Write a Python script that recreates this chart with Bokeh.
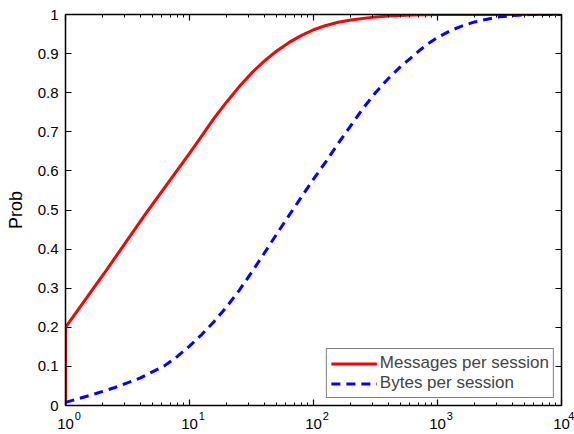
from bokeh.plotting import figure
from bokeh.models import (LogAxis, LinearAxis, FixedTicker, CustomJSTickFormatter,
                          Legend, LegendItem, Range1d)
from bokeh.embed import file_html
from bokeh.resources import INLINE

# Messages per session (CDF)
msg_x = [1, 1, 2.04, 4.42, 10, 12.6, 15.8, 20, 25.1, 31.6, 39.8, 50.1, 63.1, 79.4, 100,
         126, 158, 200, 282, 398, 631, 1000, 10000]
msg_y = [0, 0.2, 0.337, 0.49, 0.645, 0.69, 0.735, 0.777, 0.815, 0.85, 0.88, 0.906, 0.928,
         0.946, 0.961, 0.972, 0.98, 0.986, 0.992, 0.996, 0.999, 1.0, 1.0]

# Bytes per session (CDF)
bytes_x = [1, 1.58, 2.51, 3.98, 6.31, 7.94, 10, 12.6, 15.8, 20, 25.1, 31.6, 39.8, 50.1, 63.1,
           79.4, 100, 126, 158, 200, 251, 316, 398, 501, 631, 794, 1000, 1259, 1585, 1995,
           2512, 3162, 3981, 5623, 10000]
bytes_y = [0.008, 0.026, 0.046, 0.07, 0.102, 0.125, 0.152, 0.182, 0.215, 0.253, 0.294, 0.34,
           0.388, 0.437, 0.485, 0.532, 0.579, 0.624, 0.67, 0.716, 0.76, 0.8, 0.835, 0.866,
           0.893, 0.92, 0.941, 0.958, 0.971, 0.981, 0.988, 0.994, 0.997, 1.0, 1.0]

x_major = [1, 10, 100, 1000, 10000]
y_major = [round(i * 0.1, 1) for i in range(11)]
series_labels = ["Messages per session", "Bytes per session"]
y_label = "Prob"

FONT = "Liberation Sans"

p = figure(width=574, height=434, x_axis_type="log", output_backend="svg",
           toolbar_location=None, x_range=Range1d(1, 10000), y_range=Range1d(0, 1),
           min_border_left=65, min_border_right=13, min_border_top=14, min_border_bottom=29)
p.grid.visible = False
p.outline_line_color = "black"
p.outline_line_width = 1
p.background_fill_color = "white"
p.border_fill_color = "white"

minor_x = [m * d for d in [1, 10, 100, 1000] for m in range(2, 10)]
blank = CustomJSTickFormatter(code="return '';")
y_fmt = CustomJSTickFormatter(code="return String(Math.round(tick*10)/10);")
# exponent shifted to the right of the "10" using no-break spaces
exp_fmt = CustomJSTickFormatter(code="""
const e = Math.round(Math.log10(tick));
return '\\u00a0'.repeat(8) + String(e);
""")
base_fmt = CustomJSTickFormatter(code="return '10';")

def style_axis(ax, minor=True):
    ax.major_tick_in = 6
    ax.major_tick_out = 0
    ax.minor_tick_in = 3 if minor else 0
    ax.minor_tick_out = 0
    ax.axis_line_color = "black"
    ax.axis_line_width = 1.5
    ax.major_tick_line_color = "black"
    ax.major_tick_line_width = 1.2
    ax.minor_tick_line_color = "black"
    ax.minor_tick_line_width = 1
    ax.major_label_text_font = FONT
    ax.major_label_text_font_size = "15px"
    ax.major_label_text_color = "black"

# inner bottom axis: ticks + exponents
xa = p.xaxis[0]
xa.ticker = FixedTicker(ticks=x_major, minor_ticks=minor_x)
xa.formatter = exp_fmt
style_axis(xa)
xa.major_label_text_font_size = "11px"
xa.major_label_standoff = 4

# outer bottom axis: the "10" bases
xb = LogAxis(ticker=FixedTicker(ticks=x_major), formatter=base_fmt)
style_axis(xb)
xb.axis_line_color = None
xb.major_tick_line_color = None
xb.minor_tick_line_color = None
xb.major_tick_in = 0
xb.minor_tick_in = 0
xb.major_label_standoff = -6
p.add_layout(xb, "below")

ya = p.yaxis[0]
ya.ticker = FixedTicker(ticks=y_major)
ya.formatter = y_fmt
style_axis(ya, minor=False)
ya.major_label_standoff = 7
ya.axis_label = y_label
ya.axis_label_text_font = FONT
ya.axis_label_text_font_size = "18px"
ya.axis_label_text_font_style = "normal"
ya.axis_label_text_color = "black"
ya.axis_label_standoff = 9

top = LogAxis(ticker=FixedTicker(ticks=x_major, minor_ticks=minor_x), formatter=blank)
style_axis(top)
top.major_label_text_font_size = "0px"
top.major_label_standoff = 0
p.add_layout(top, "above")

right = LinearAxis(ticker=FixedTicker(ticks=y_major), formatter=blank)
style_axis(right, minor=False)
right.major_label_text_font_size = "0px"
right.major_label_standoff = 0
p.add_layout(right, "right")

r1 = p.line(msg_x, msg_y, line_color="#ff0000", line_width=3)
r2 = p.line(bytes_x, bytes_y, line_color="#0000ff", line_width=3, line_dash="9 6")

legend = Legend(items=[LegendItem(label=series_labels[0], renderers=[r1]),
                       LegendItem(label=series_labels[1], renderers=[r2])],
                location="bottom_right")
legend.label_text_font = FONT
legend.label_text_font_size = "17px"
legend.glyph_width = 46
legend.glyph_height = 19
legend.label_height = 19
legend.spacing = 0
legend.padding = 4
legend.margin = 7
legend.label_standoff = 3
legend.border_line_color = "black"
legend.border_line_width = 1.5
legend.background_fill_alpha = 1
p.add_layout(legend)

open("out.html", "w").write(file_html(p, INLINE))
